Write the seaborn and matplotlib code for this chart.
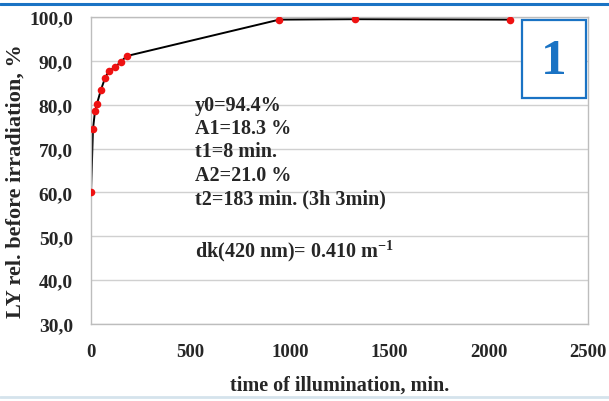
import matplotlib
matplotlib.use("Agg")
import matplotlib.pyplot as plt
import seaborn as sns
import pandas as pd
from matplotlib.ticker import FuncFormatter, MultipleLocator
from matplotlib.patches import Rectangle
from matplotlib.lines import Line2D

# illumination time (min) and light yield relative to before irradiation (%)
time_min = [0, 10, 20, 30, 50, 70, 90, 120, 150, 180, 947, 1330, 2110]
ly_rel = [60.0, 74.5, 78.5, 80.2, 83.4, 86.0, 87.7, 88.5, 89.8, 91.1, 99.4, 99.5, 99.4]

fit_lines = ["y0=94.4%", "A1=18.3 %", "t1=8 min.", "A2=21.0 %", "t2=183 min. (3h 3min)"]
dk_text = "dk(420 nm)= 0.410 m$^{\\mathbf{-1}}$"

df = pd.DataFrame({"t": time_min, "ly": ly_rel})

sns.set_theme(style="white")
plt.rcParams["font.family"] = ["Liberation Serif", "DejaVu Serif"]
plt.rcParams["mathtext.fontset"] = "custom"
plt.rcParams["mathtext.rm"] = "Liberation Serif:bold"
plt.rcParams["mathtext.bf"] = "Liberation Serif:bold"

fig = plt.figure(figsize=(6.09, 4.02), dpi=100)
ax = fig.add_axes([91 / 609, 1 - 325 / 402, (588 - 91) / 609, (325 - 18) / 402])

sns.lineplot(data=df, x="t", y="ly", color="black", linewidth=1.4, ax=ax)
sns.scatterplot(data=df, x="t", y="ly", color="#ee1111", s=30, edgecolor="#ee1111",
                linewidth=0, zorder=5, ax=ax)

ax.set_xlim(0, 2500)
ax.set_ylim(30, 100)
ax.xaxis.set_major_locator(MultipleLocator(500))
ax.yaxis.set_major_locator(MultipleLocator(10))
ax.yaxis.set_major_formatter(FuncFormatter(lambda v, p: f"{v:.1f}".replace(".", ",")))
ax.grid(axis="y", color="#d0d0d0", linewidth=1.0)
ax.set_axisbelow(True)
for s in ax.spines.values():
    s.set_color("#bdbdbd")
    s.set_linewidth(1.0)
ax.tick_params(axis="both", direction="out", length=5, width=1, color="#bdbdbd",
               labelsize=14, pad=8)
ax.tick_params(axis="x", labelsize=13.5, pad=9)
for lab in ax.get_xticklabels() + ax.get_yticklabels():
    lab.set_fontweight("bold")

ax.set_xlabel("time of illumination, min.", fontsize=14.5, fontweight="bold", labelpad=10)
ax.set_ylabel("LY rel. before irradiation, %", fontsize=16, fontweight="bold", labelpad=4)
ax.yaxis.set_label_coords(-0.132, 0.47)

# fit parameters
ys = [106, 129, 152, 176, 199]
for txt, y in zip(fit_lines, ys):
    fig.text(195 / 609, 1 - y / 402, txt, fontsize=14.5, fontweight="bold",
             va="center", ha="left")
fig.text(195 / 609, 1 - 251 / 402, dk_text, fontsize=14.5, fontweight="bold",
         va="center", ha="left")

# panel number box
fig.patches.append(Rectangle((522 / 609, 1 - 99 / 402), 64 / 609, 78 / 402,
                             transform=fig.transFigure, fill=True, facecolor="white",
                             edgecolor="#1a73c4", linewidth=1.6, zorder=10))
fig.text(554 / 609, 1 - 62 / 402, "1", fontsize=37, fontweight="bold", color="#1a73c4",
         ha="center", va="center", zorder=11)

# frame lines
fig.add_artist(Line2D([0, 1], [1 - 5 / 402, 1 - 5 / 402], color="#1a73c4", linewidth=2.2))
fig.add_artist(Line2D([0, 1], [1 - 398 / 402, 1 - 398 / 402], color="#d5e3ec", linewidth=2))

fig.savefig("out.png", dpi=100)
